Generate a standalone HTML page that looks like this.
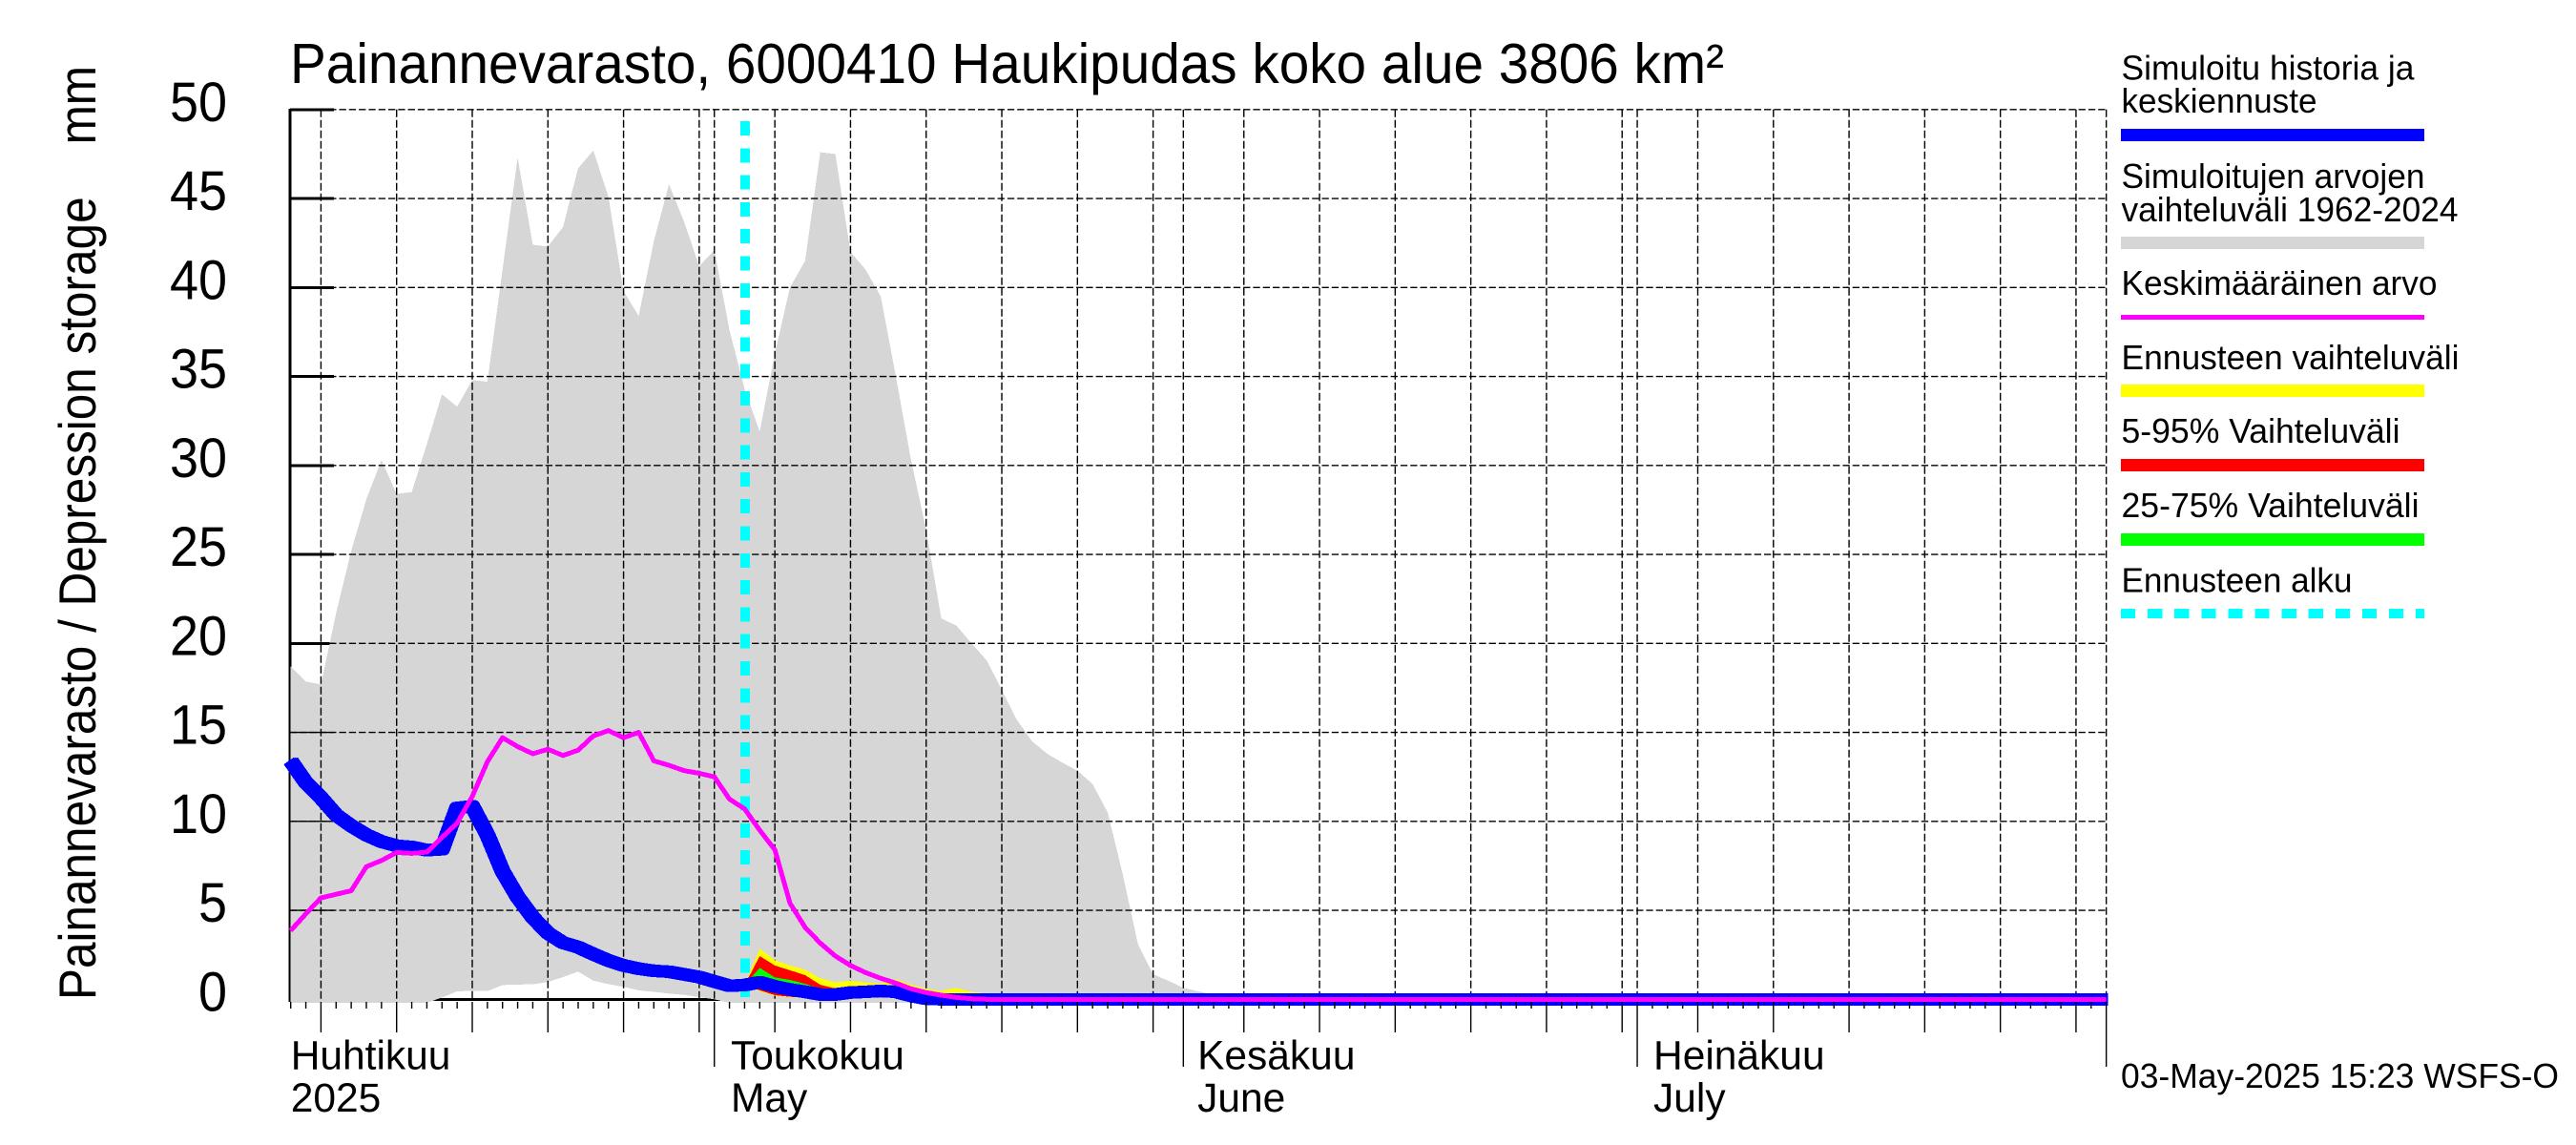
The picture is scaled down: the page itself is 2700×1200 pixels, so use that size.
<!DOCTYPE html>
<html lang="fi">
<head>
<meta charset="utf-8">
<title>Painannevarasto</title>
<style>
html,body{margin:0;padding:0;background:#fff;width:2700px;height:1200px;overflow:hidden}
svg{display:block}
text{font-family:"Liberation Sans",Arial,sans-serif;fill:#000}
.leg{font-size:36px}
</style>
</head>
<body>
<svg id="chart" xmlns="http://www.w3.org/2000/svg" width="2700" height="1200" viewBox="0 0 2700 1200">
  <defs>
    <clipPath id="plot-clip"><rect x="298" y="100" width="1909.6" height="970"/></clipPath>
  </defs>
  <rect x="0" y="0" width="2700" height="1200" fill="#fff"/>
  <g id="under"></g>
  <g id="marks"></g>
  <g id="labels"></g>
  <text x="304" y="87" font-size="59" textLength="1503" lengthAdjust="spacingAndGlyphs">Painannevarasto, 6000410 Haukipudas koko alue 3806 km²</text>
  <text transform="translate(100,1048) rotate(-90)" font-size="55" textLength="979" lengthAdjust="spacingAndGlyphs" xml:space="preserve" style="white-space:pre">Painannevarasto / Depression storage    mm</text>

  <g>
    <text class="leg" x="2223.5" y="83.5" textLength="307" lengthAdjust="spacingAndGlyphs">Simuloitu historia ja</text>
    <text class="leg" x="2223.5" y="118" textLength="205" lengthAdjust="spacingAndGlyphs">keskiennuste</text>
    <rect x="2223" y="135" width="318" height="13" fill="#0000ff"/>
    <text class="leg" x="2223.5" y="197" textLength="318" lengthAdjust="spacingAndGlyphs">Simuloitujen arvojen</text>
    <text class="leg" x="2223.5" y="232" textLength="353" lengthAdjust="spacingAndGlyphs">vaihteluväli 1962-2024</text>
    <rect x="2223" y="248" width="318" height="13" fill="#d6d6d6"/>
    <text class="leg" x="2223.5" y="309" textLength="331" lengthAdjust="spacingAndGlyphs">Keskimääräinen arvo</text>
    <rect x="2223" y="330" width="318" height="5" fill="#ff00ff"/>
    <text class="leg" x="2223.5" y="387" textLength="354" lengthAdjust="spacingAndGlyphs">Ennusteen vaihteluväli</text>
    <rect x="2223" y="403" width="318" height="13" fill="#ffff00"/>
    <text class="leg" x="2223.5" y="464" textLength="292" lengthAdjust="spacingAndGlyphs">5-95% Vaihteluväli</text>
    <rect x="2223" y="481" width="318" height="13" fill="#ff0000"/>
    <text class="leg" x="2223.5" y="542" textLength="312" lengthAdjust="spacingAndGlyphs">25-75% Vaihteluväli</text>
    <rect x="2223" y="559" width="318" height="13" fill="#00ff00"/>
    <text class="leg" x="2223.5" y="620.5" textLength="242" lengthAdjust="spacingAndGlyphs">Ennusteen alku</text>
    <line x1="2223" y1="643" x2="2541" y2="643" stroke="#00ffff" stroke-width="10" stroke-dasharray="15.2 12.9" shape-rendering="crispEdges"/>
  </g>

  <text x="2223" y="1140" font-size="36.5" textLength="459" lengthAdjust="spacingAndGlyphs">03-May-2025 15:23 WSFS-O</text>
</svg>

<script>
// ---- chart data (daily values, first value = 3 April 2025) ----
const yTickValues = [0, 5, 10, 15, 20, 25, 30, 35, 40, 45, 50];
const monthNamesFi = ['Huhtikuu', 'Toukokuu', 'Kesäkuu', 'Heinäkuu'];
const monthNamesEn = ['2025', 'May', 'June', 'July'];
const monthLabelDays = [0, 29.09, 59.93, 90.07];
const forecastStartDay = 30;

const rangeUpper = [
  18.7,17.85,17.7,21.7,25.2,28.1,30.3,28.4,28.5,31.2,
  34.0,33.3,34.8,34.7,41,47.3,42.4,42.3,43.4,46.7,
  47.7,45.1,39.8,38.4,42.6,45.8,43.7,41.2,42.1,37.6,
  34.3,31.9,36.3,40,41.5,47.6,47.5,42,41,39.5,
  35,30.3,26.4,21.4,21,20,19.05,17.4,15.7,14.5,
  13.8,13.3,12.85,12.1,10.5,7,3.1,1.4,1.05,0.64,
  0.45,0.25,0.1,0,0,0,0,0,0,0,
  0,0,0,0,0,0,0,0,0,0,
  0,0,0,0,0,0,0,0,0,0,
  0,0,0,0,0,0,0,0,0,0,
  0,0,0,0,0,0,0,0,0,0,
  0,0,0,0,0,0,0,0,0,0,
  0];
const rangeLower = [
  -0.2,-0.2,-0.2,-0.2,-0.2,-0.2,-0.2,-0.2,-0.2,-0.2,
  0.1,0.45,0.47,0.46,0.8,0.83,0.84,0.97,1.25,1.56,
  1.05,0.85,0.7,0.5,0.42,0.32,0.25,0.12,0,-0.2,
  -0.2,-0.2,-0.2,-0.2,-0.2,-0.2,-0.2,-0.2,-0.2,-0.2,
  -0.2,-0.2,-0.2,-0.2,-0.2,-0.2,-0.2,-0.2,-0.2,-0.2,
  -0.2,-0.2,-0.2,-0.2,-0.2,-0.2,-0.2,-0.2,-0.2,-0.2,
  -0.2,-0.2,-0.2,-0.2,-0.2,-0.2,-0.2,-0.2,-0.2,-0.2,
  -0.2,-0.2,-0.2,-0.2,-0.2,-0.2,-0.2,-0.2,-0.2,-0.2,
  -0.2,-0.2,-0.2,-0.2,-0.2,-0.2,-0.2,-0.2,-0.2,-0.2,
  -0.2,-0.2,-0.2,-0.2,-0.2,-0.2,-0.2,-0.2,-0.2,-0.2,
  -0.2,-0.2,-0.2,-0.2,-0.2,-0.2,-0.2,-0.2,-0.2,-0.2,
  -0.2,-0.2,-0.2,-0.2,-0.2,-0.2,-0.2,-0.2,-0.2,-0.2,
  -0.2];
const historyMedian = [
  13.4,12.18,11.33,10.36,9.75,9.24,8.86,8.63,8.56,8.38,
  8.43,10.75,10.85,9.24,7.2,5.75,4.6,3.72,3.18,2.93,
  2.54,2.18,1.9,1.72,1.6,1.55,1.4,1.25,1.0,0.76,
  0.8,0.96,0.72,0.55,0.42,0.27,0.27,0.38,0.42,0.47,
  0.42,0.2,0.03,0,0,0,0,0,0,0,
  0,0,0,0,0,0,0,0,0,0,
  0,0,0,0,0,0,0,0,0,0,
  0,0,0,0,0,0,0,0,0,0,
  0,0,0,0,0,0,0,0,0,0,
  0,0,0,0,0,0,0,0,0,0,
  0,0,0,0,0,0,0,0,0,0,
  0,0,0,0,0,0,0,0,0,0,
  0];
const meanValue = [
  3.86,4.8,5.7,5.9,6.1,7.45,7.8,8.25,8.2,8.27,
  9.1,9.9,11.4,13.35,14.7,14.2,13.8,14.05,13.7,14.0,
  14.8,15.1,14.7,15.0,13.4,13.15,12.85,12.7,12.5,11.25,
  10.7,9.5,8.4,5.4,4.04,3.16,2.43,1.9,1.5,1.18,
  0.91,0.59,0.38,0.23,0.1,0.03,0,0,0,0,
  0,0,0,0,0,0,0,0,0,0,
  0,0,0,0,0,0,0,0,0,0,
  0,0,0,0,0,0,0,0,0,0,
  0,0,0,0,0,0,0,0,0,0,
  0,0,0,0,0,0,0,0,0,0,
  0,0,0,0,0,0,0,0,0,0,
  0,0,0,0,0,0,0,0,0,0,
  0];
// forecast bands, first value = forecast start day
const forecastMaxHi = [0.8,2.84,2.2,1.9,1.66,1.18,0.95,1.04,0.95,0.87,1.13,0.82,0.59,0.47,0.64,0.43,0.32,0.1,0];
const forecastMaxLo = [0.8,0.45,0.2,0.12,0.1,0.1,0.1,0.1,0.1,0.1,0.1,0.1,0,0,0,0,0,0,0];
const p95Hi = [0.8,2.43,1.9,1.63,1.36,0.82,0.6,0.6,0.77,0.8,0.8,0.6,0.45,0.32,0.32,0.1,0.05,0,0];
const p95Lo = [0.8,0.5,0.23,0.14,0.1,0.1,0.1,0.1,0.1,0.1,0.1,0.1,0,0,0,0,0,0,0];
const p75Hi = [0.8,1.77,1.23,1.09,0.87,0.6,0.4,0.4,0.45,0.5,0.45,0.3,0.1,0,0,0,0,0,0];
const p75Lo = [0.8,0.8,0.6,0.45,0.35,0.25,0.25,0.35,0.4,0.45,0.4,0.2,0.03,0,0,0,0,0,0];

// ---- axis functions ----
const NS = 'http://www.w3.org/2000/svg';
const under = document.getElementById('under');
const marks = document.getElementById('marks');
const labels = document.getElementById('labels');
function xAt(day) { return 304.7 + 15.858 * day; }
function yAt(v) { return 1047.3 - 18.65 * v; }
const X_LAST = xAt(rangeUpper.length - 1);
const START_DATE = Date.UTC(2025, 3, 3);

function shape(tag, parent, attrs) {
  const el = document.createElementNS(NS, tag);
  for (const k in attrs) el.setAttribute(k, attrs[k]);
  parent.appendChild(el);
  return el;
}
function series(values, offset) {
  return values.map(function (v, i) { return xAt(i + offset).toFixed(2) + ',' + yAt(v).toFixed(2); });
}
function band(hi, lo, offset) {
  return series(hi, offset).concat(series(lo, offset).reverse()).join(' ');
}

// black baseline and thick axis, hidden partly by the grey range
const baseLine = shape('line', under, {x1: xAt(0), y1: 1047.5, x2: X_LAST, y2: 1047.5, stroke: '#000', 'stroke-width': 3, 'shape-rendering': 'crispEdges'});


const yAxisLine = shape('line', under, {x1: 304, y1: yAt(50) - 1, x2: 304, y2: 1050, stroke: '#000', 'stroke-width': 3, 'shape-rendering': 'crispEdges'});


yTickValues.forEach(function (v) {
  const t = shape('line', under, {x1: 304, y1: yAt(v), x2: 350, y2: yAt(v), stroke: '#000', 'stroke-width': 3, 'shape-rendering': 'crispEdges'});
  
  
});

// grey simulated range
const greyRange = shape('polygon', marks, {points: band(rangeUpper, rangeLower, 0), fill: '#d6d6d6', 'shape-rendering': 'crispEdges'});



// grid lines
yTickValues.forEach(function (v) {
  if (v === 0) return;
  const g = shape('line', marks, {x1: 304, y1: yAt(v), x2: X_LAST, y2: yAt(v), stroke: '#000', 'stroke-width': 1.4, 'stroke-dasharray': '7.3 3'});
  
  
  const s = shape('line', marks, {x1: 304, y1: yAt(v), x2: 350, y2: yAt(v), stroke: '#000', 'stroke-width': 1.4});
  
  
});
for (let i = 0; i < rangeUpper.length; i++) {
  const d = new Date(START_DATE + i * 86400000).getUTCDate();
  const isMonth = d === 1;
  const isFive = d % 5 === 0 && d <= 30;
  const x = xAt(i);
  if (isMonth || isFive) {
    const gv = shape('line', marks, {x1: x, y1: yAt(50), x2: x, y2: 1047, stroke: '#000', 'stroke-width': 1.4, 'stroke-dasharray': '8 3'});
    
    
  }
  const bottom = isMonth ? 1118 : (isFive ? 1082 : 1057);
  const tick = shape('line', labels, {x1: x, y1: 1050, x2: x, y2: bottom, stroke: '#000', 'stroke-width': 1.4});
  
  
}

// forecast start marker
const startLine = shape('line', marks, {x1: xAt(forecastStartDay) + 0.6, y1: 127, x2: xAt(forecastStartDay) + 0.6, y2: 1045, stroke: '#00ffff', 'stroke-width': 10, 'stroke-dasharray': '15 13.3', 'shape-rendering': 'crispEdges'});



// forecast bands
const bandYellow = shape('polygon', marks, {points: band(forecastMaxHi, forecastMaxLo, forecastStartDay), fill: '#ffff00', 'shape-rendering': 'crispEdges'});


const bandRed = shape('polygon', marks, {points: band(p95Hi, p95Lo, forecastStartDay), fill: '#ff0000', 'shape-rendering': 'crispEdges'});


const bandGreen = shape('polygon', marks, {points: band(p75Hi, p75Lo, forecastStartDay), fill: '#00ff00', 'shape-rendering': 'crispEdges'});



// lines: the reference pen is blocky, so the blue line is widened on slopes by small x shifts
const penShifts = [-2, 0, 2];
penShifts.forEach(function (dx) {
  const blueLine = shape('polyline', marks, {points: series(historyMedian, 0).join(' '), fill: 'none', stroke: '#0000ff', 'stroke-width': 13, 'stroke-linejoin': 'round', 'stroke-linecap': 'butt', 'shape-rendering': 'crispEdges', transform: 'translate(' + dx + ',0)', 'clip-path': 'url(#plot-clip)'});
  
  
});
const magentaLine = shape('polyline', marks, {points: series(meanValue, 0).join(' '), fill: 'none', stroke: '#ff00ff', 'stroke-width': 5, 'stroke-linejoin': 'round', 'stroke-linecap': 'butt', 'shape-rendering': 'crispEdges'});



// axis text
yTickValues.forEach(function (v) {
  const t = shape('text', labels, {x: 238, y: yAt(v) + 12, 'text-anchor': 'end', 'font-size': 58, textLength: String(v).length * 30, lengthAdjust: 'spacingAndGlyphs'});
  
  
  t.textContent = String(v);
});
monthNamesFi.forEach(function (name, i) {
  const a = shape('text', labels, {x: xAt(monthLabelDays[i]), y: 1120.5, 'font-size': 42.5});
  
  
  a.textContent = name;
  const b = shape('text', labels, {x: xAt(monthLabelDays[i]), y: 1165, 'font-size': 42.5});
  
  
  b.textContent = monthNamesEn[i];
});
</script>
</body>
</html>
